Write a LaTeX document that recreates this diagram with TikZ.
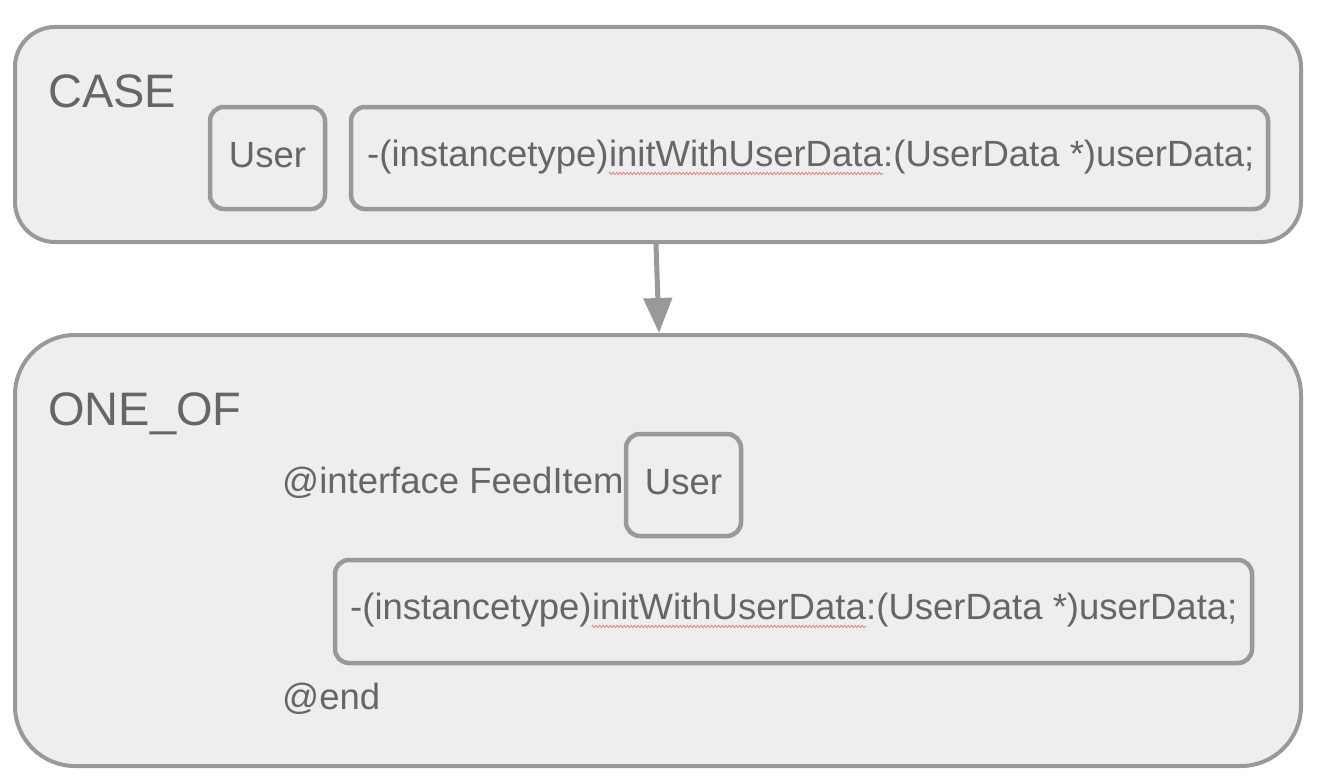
\documentclass[tikz,border=0pt]{standalone}
\usepackage{fontspec}
\setmainfont{Liberation Sans}
\usetikzlibrary{arrows.meta,decorations.pathmorphing}
\definecolor{strokeg}{HTML}{999999}
\definecolor{fillg}{HTML}{EEEEEE}
\definecolor{textg}{HTML}{666666}
\definecolor{squig}{HTML}{E87878}
\begin{document}
\begin{tikzpicture}[x=1pt,y=-1pt,
  bigbox/.style={draw=strokeg,fill=fillg,line width=4pt,rectangle,inner sep=0pt},
  smallbox/.style={draw=strokeg,fill=fillg,line width=4.5pt,rectangle,rounded corners=14pt,inner sep=0pt,minimum height=102pt},
  lbl/.style={text=textg,inner sep=0pt,font=\fontsize{36.5}{44}\selectfont},
  title/.style={text=textg,inner sep=0pt,font=\fontsize{47}{56}\selectfont,anchor=west},
  squiggle/.style={draw=squig,line width=0.7pt,decorate,decoration={zigzag,amplitude=1.2pt,segment length=3.5pt}}
]
\fill[white] (0,0) rectangle (1320,784);
\useasboundingbox (0,0) rectangle (1320,784);

% outer boxes
\node[bigbox,rounded corners=40pt,minimum width=1286pt,minimum height=215pt] (case) at (658,134.5) {};
\node[bigbox,rounded corners=60pt,minimum width=1286pt,minimum height=431pt] (oneof) at (658,550.5) {};

% CASE content
\node[title] (casetitle) at (48,91) {CASE};
\node[smallbox,minimum width=115pt] (user1) at (267.5,158) {};
\node[lbl] (user1t) at (267.5,155) {User};
\node[smallbox,minimum width=917pt] (meth1) at (809.5,158) {};
\node[lbl,anchor=west] (m1a) at (367,157) {-(instancetype)};
\node[lbl,anchor=base west] (m1b) at (m1a.base east) {initWithUserData};
\node[lbl,anchor=base west] (m1c) at (m1b.base east) {:(UserData *)userData;};
\draw[squiggle] ([yshift=-7pt]m1b.base west) -- ([yshift=-7pt]m1b.base east);

% arrow
\draw[strokeg,line width=5pt,-{Triangle[width=28pt,length=35pt]}] ([xshift=-2pt]case.south) -- ([xshift=1pt]oneof.north);

% ONE_OF content
\node[title] (oneoftitle) at (48,414) {ONE\_OF};
\node[lbl,anchor=west] (iface) at (282,483) {@interface FeedItem};
\node[smallbox,minimum width=115pt] (user2) at (683.5,485) {};
\node[lbl] (user2t) at (683.5,482) {User};
\node[smallbox,minimum width=917pt,minimum height=103pt] (meth2) at (793.5,611.5) {};
\node[lbl,anchor=west] (m2a) at (350,610) {-(instancetype)};
\node[lbl,anchor=base west] (m2b) at (m2a.base east) {initWithUserData};
\node[lbl,anchor=base west] (m2c) at (m2b.base east) {:(UserData *)userData;};
\draw[squiggle] ([yshift=-7pt]m2b.base west) -- ([yshift=-7pt]m2b.base east);
\node[lbl,anchor=west] (endt) at (282,699) {@end};
\end{tikzpicture}
\end{document}
